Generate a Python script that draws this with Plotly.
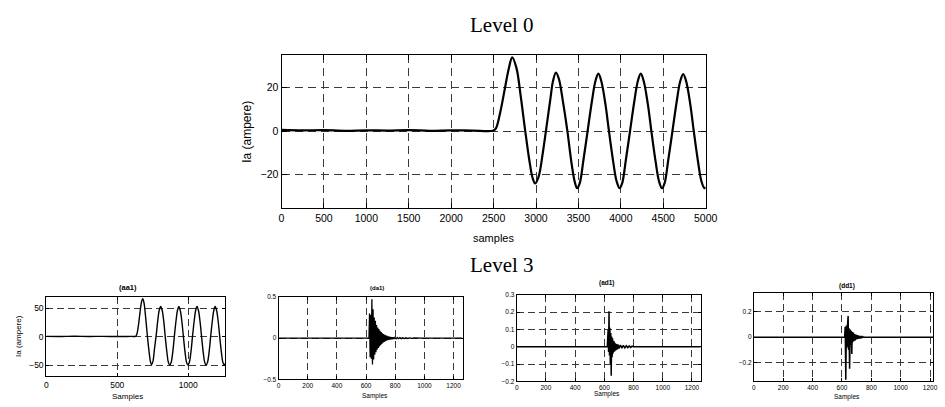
import plotly.graph_objects as go

W, H = 945, 407

# ---------------- data ----------------
# Level 0 : phase current (ampere) vs sample index
lvl0_x = [0, 250, 500, 750, 1000, 1250, 1500, 1750, 2000, 2250, 2500,
          2530, 2580, 2630, 2680, 2720, 2770, 2820, 2870, 2920, 2960, 2990,
          3030, 3080, 3120, 3170, 3200, 3235, 3270, 3320, 3370, 3420, 3455, 3485,
          3515, 3560, 3610, 3660, 3700, 3735, 3770, 3820, 3860, 3910, 3950, 3985,
          4015, 4060, 4110, 4160, 4200, 4235, 4270, 4320, 4360, 4410, 4450, 4485,
          4515, 4560, 4610, 4660, 4700, 4735, 4770, 4820, 4860, 4910, 4950, 4985, 5000]
lvl0_y = [0.6, 0.4, 0.5, 0.2, 0.4, 0.3, 0.5, 0.2, 0.4, 0.3, 0.3,
          1.5, 9, 19, 29, 34, 29, 16, 1, -13, -21.5, -24,
          -21, -10, 1, 15, 23, 27, 24, 13, 0, -15, -23, -26.2,
          -24, -13, 0.5, 14, 23, 26.5, 23, 12, 0, -14, -23, -26.2,
          -24, -13, 0.5, 14, 23, 26.5, 23, 12, 0, -14, -23, -26.2,
          -24, -13, 0.5, 14, 23, 26.3, 23, 12, 0, -14, -23, -26.2, -25.8]

# Level 3 : approximation (aa1)
aa1_x = [0, 100, 200, 300, 400, 500, 600, 628, 636, 648, 660, 670, 679, 688, 700, 712,
         724, 734, 742, 751, 762, 774, 786, 796, 806, 816, 828, 838, 850, 860, 870,
         880, 892, 902, 914, 924, 934, 944, 956, 966, 978, 988, 998, 1008, 1020, 1030,
         1042, 1052, 1062, 1072, 1084, 1094, 1106, 1116, 1126, 1136, 1148, 1158, 1170,
         1180, 1190, 1200, 1212, 1222, 1234, 1244, 1254, 1260]
aa1_y = [0.5, 0.3, 0.8, 0.3, 0.6, 0.2, 0.5, 0.5, 3, 18, 42, 60, 67, 60, 34, 2,
         -26, -44, -49.5, -44, -22, 2, 30, 47, 53, 47, 26, 0, -28, -45, -50,
         -45, -25, 0, 28, 46, 53, 46, 25, 0, -28, -45, -50, -45, -25, 0,
         28, 46, 53, 46, 25, 0, -28, -45, -50, -45, -25, 0, 28,
         46, 53, 46, 25, 0, -28, -45, -50, -47]

# Level 3 : detail (da1)
da1_x = [0, 620, 624, 628, 632, 636, 640, 644, 648, 652, 656, 660, 664, 668, 672, 676,
         680, 684, 688, 692, 696, 700, 704, 708, 712, 716, 720, 724, 728, 732, 736,
         740, 744, 748, 752, 756, 760, 764, 768, 772, 776, 780, 786, 792, 798, 806,
         814, 822, 832, 842, 852, 862, 874, 886, 900, 915, 930, 950, 975, 1260]
da1_y = [0, 0, 0.30, -0.23, 0.28, -0.25, 0.47, -0.32, 0.35, -0.26, 0.25, -0.20, 0.21, -0.17,
         0.16, -0.14, 0.13, -0.12, 0.11, -0.10, 0.09, -0.085, 0.075, -0.07, 0.06, -0.055,
         0.05, -0.045, 0.042, -0.038, 0.034, -0.03, 0.028, -0.025, 0.022, -0.02, 0.019,
         -0.017, 0.016, -0.014, 0.013, -0.012, 0.011, -0.01, 0.009, -0.008, 0.008, -0.007,
         0.006, -0.006, 0.005, -0.005, 0.004, -0.004, 0.004, -0.003, 0.003, -0.002, 0, 0]

# Level 3 : detail (ad1)
ad1_x = [0, 620, 626, 629, 632, 635, 638, 641, 644, 647, 650, 653, 656, 659, 662, 665,
         668, 672, 676, 680, 685, 690, 695, 700, 710, 720, 730, 740, 750, 760, 770,
         780, 790, 800, 1260]
ad1_y = [0, 0, 0.10, -0.03, 0.205, -0.05, 0.11, -0.10, 0.08, -0.168, 0.06, -0.06, 0.05,
         -0.04, 0.035, -0.03, 0.03, -0.025, 0.02, -0.02, 0.015, -0.015, 0.012, -0.01,
         0.01, -0.008, 0.008, -0.006, 0.006, -0.005, 0.005, -0.004, 0.004, 0, 0]

# Level 3 : detail (dd1)
dd1_x = [0, 618, 622, 626, 630, 634, 638, 642, 645, 648, 652, 656, 660, 664, 667, 670,
         674, 678, 682, 686, 690, 695, 700, 705, 710, 716, 722, 728, 734, 740, 746, 1260]
dd1_y = [0, 0, 0.08, -0.33, 0.09, -0.08, 0.10, 0.165, -0.10, 0.07, -0.245, 0.06, -0.06,
         0.05, -0.13, 0.04, -0.04, 0.035, -0.03, 0.025, -0.025, 0.02, -0.018, 0.015,
         -0.013, 0.012, -0.01, 0.008, -0.007, 0.005, 0, 0]

# tick values
lvl0_xticks = [0, 500, 1000, 1500, 2000, 2500, 3000, 3500, 4000, 4500, 5000]
lvl0_yticks = [-20, 0, 20]
aa1_xticks = [0, 500, 1000]
aa1_yticks = [-50, 0, 50]
det_xticks = [0, 200, 400, 600, 800, 1000, 1200]
da1_yticks = [-0.5, 0, 0.5]
ad1_yticks = [-0.2, -0.1, 0, 0.1, 0.2, 0.3]
dd1_yticks = [-0.2, 0, 0.2]

# ---------------- figure ----------------
SANS = "Liberation Sans, Arial, sans-serif"
SERIF = "Liberation Serif, Times New Roman, serif"


def xd(a, b):
    return [a / W, b / W]


def yd(top, bottom):
    return [1 - bottom / H, 1 - top / H]


def axis(domain, rng, ticks, size, ticklen, anchor, dash):
    return dict(domain=domain, range=rng, tickvals=ticks, ticks="inside", ticklen=ticklen,
                tickwidth=1, tickcolor="black", showline=True, linecolor="black",
                linewidth=1, mirror="ticks", showgrid=True, gridcolor="#3a3a3a",
                gridwidth=1, griddash=dash, zeroline=False, anchor=anchor,
                tickfont=dict(family=SANS, size=size, color="black"), fixedrange=True)


fig = go.Figure()
fig.add_trace(go.Scatter(x=lvl0_x, y=lvl0_y, mode="lines", line=dict(color="black", width=2.2, shape="spline"),
                         xaxis="x", yaxis="y", showlegend=False))
fig.add_trace(go.Scatter(x=aa1_x, y=aa1_y, mode="lines", line=dict(color="black", width=1.4, shape="spline"),
                         xaxis="x2", yaxis="y2", showlegend=False))
fig.add_trace(go.Scatter(x=da1_x, y=da1_y, mode="lines", line=dict(color="black", width=1.3),
                         xaxis="x3", yaxis="y3", showlegend=False))
fig.add_trace(go.Scatter(x=ad1_x, y=ad1_y, mode="lines", line=dict(color="black", width=1.5),
                         xaxis="x4", yaxis="y4", showlegend=False))
fig.add_trace(go.Scatter(x=dd1_x, y=dd1_y, mode="lines", line=dict(color="black", width=1.5),
                         xaxis="x5", yaxis="y5", showlegend=False))

MD, BD = "8px,5px", "7px,4px"
fig.update_layout(
    width=W, height=H, margin=dict(l=0, r=0, t=0, b=0),
    paper_bgcolor="white", plot_bgcolor="white",
    xaxis=axis(xd(283, 714), [0, 5000], lvl0_xticks, 10.5, 5, "y", MD),
    yaxis=axis(yd(52, 208), [-35.5, 35], lvl0_yticks, 10.5, 5, "x", MD),
    xaxis2=axis(xd(44, 226), [0, 1262], aa1_xticks, 8.5, 3, "y2", BD),
    yaxis2=axis(yd(298, 379), [-70, 70], aa1_yticks, 8.5, 3, "x2", BD),
    xaxis3=axis(xd(280, 467), [0, 1262], det_xticks, 6.5, 3, "y3", BD),
    yaxis3=axis(yd(298, 382), [-0.5, 0.5], da1_yticks, 6.5, 3, "x3", BD),
    xaxis4=axis(xd(522, 709), [0, 1260], det_xticks, 6.5, 3, "y4", BD),
    yaxis4=axis(yd(296, 384), [-0.2, 0.3], ad1_yticks, 6.5, 3, "x4", BD),
    xaxis5=axis(xd(763, 945), [0, 1220], det_xticks, 6.5, 3, "y5", BD),
    yaxis5=axis(yd(294, 384), [-0.343, 0.343], dd1_yticks, 6.5, 3, "x5", BD),
)

labels = [
    # text, x px, y px, size, family, angle
    ("Level 0", 507, 21, 21, SERIF, 0),
    ("Ia (ampere)", 248, 130, 12, SANS, -90),
    ("samples", 498, 238, 11, SANS, 0),
    ("Level 3", 507, 266, 21, SERIF, 0),
    ("<b>(aa1)</b>", 127, 288, 7.5, SANS, 0),
    ("Ia (ampere)", 15, 338, 8, SANS, -90),
    ("Samples", 127, 399, 8, SANS, 0),
    ("<b>(da1)</b>", 380, 289, 6, SANS, 0),
    ("Samples", 378, 399, 6.5, SANS, 0),
    ("<b>(ad1)</b>", 614, 284, 6.5, SANS, 0),
    ("Samples", 614, 397, 6.5, SANS, 0),
    ("<b>(dd1)</b>", 858, 287, 6.5, SANS, 0),
    ("Samples", 858, 400, 6.5, SANS, 0),
]
for text, px, py, size, fam, ang in labels:
    fig.add_annotation(text=text, x=px / W, y=1 - py / H, xref="paper", yref="paper",
                       xanchor="center", yanchor="middle", showarrow=False, textangle=ang,
                       font=dict(family=fam, size=size, color="black"))

fig.write_html("out.html", config={"displayModeBar": False},
               post_script="document.body.style.margin='0px';")
